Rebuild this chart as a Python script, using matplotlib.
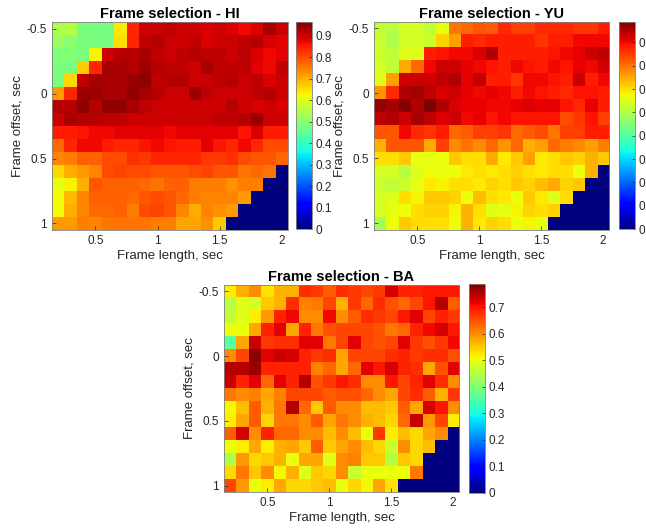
import matplotlib

matplotlib.use("Agg")
import matplotlib.pyplot as plt
import numpy as np

plt.rcParams["font.family"] = ["Liberation Sans", "DejaVu Sans"]

frame_length = [0.2, 0.3, 0.4, 0.5, 0.6, 0.7, 0.8, 0.9, 1.0, 1.1,
                1.2, 1.3, 1.4, 1.5, 1.6, 1.7, 1.8, 1.9, 2.0]
frame_offset = [-0.5, -0.4, -0.3, -0.2, -0.1, 0.0, 0.1, 0.2,
                0.3, 0.4, 0.5, 0.6, 0.7, 0.8, 0.9, 1.0]

# rows = frame offset, columns = frame length (0 where the frame does not fit)
hi_values = [
    [0.54, 0.55, 0.48, 0.48, 0.47, 0.64, 0.84, 0.90, 0.90, 0.91, 0.90, 0.90, 0.89, 0.90, 0.89, 0.87, 0.89, 0.93, 0.90],
    [0.52, 0.50, 0.48, 0.48, 0.48, 0.65, 0.84, 0.91, 0.92, 0.90, 0.90, 0.91, 0.89, 0.90, 0.90, 0.91, 0.92, 0.89, 0.88],
    [0.49, 0.49, 0.48, 0.63, 0.90, 0.92, 0.92, 0.93, 0.91, 0.90, 0.91, 0.92, 0.91, 0.91, 0.90, 0.91, 0.89, 0.87, 0.88],
    [0.48, 0.48, 0.67, 0.84, 0.93, 0.93, 0.92, 0.94, 0.92, 0.91, 0.91, 0.90, 0.93, 0.91, 0.91, 0.91, 0.88, 0.87, 0.91],
    [0.48, 0.66, 0.91, 0.93, 0.93, 0.93, 0.94, 0.95, 0.91, 0.92, 0.92, 0.90, 0.90, 0.91, 0.92, 0.90, 0.91, 0.89, 0.90],
    [0.72, 0.84, 0.94, 0.94, 0.93, 0.93, 0.95, 0.93, 0.92, 0.90, 0.90, 0.94, 0.91, 0.90, 0.90, 0.90, 0.91, 0.92, 0.90],
    [0.92, 0.92, 0.95, 0.92, 0.95, 0.95, 0.93, 0.91, 0.90, 0.90, 0.90, 0.90, 0.90, 0.90, 0.92, 0.90, 0.89, 0.90, 0.89],
    [0.90, 0.93, 0.92, 0.92, 0.91, 0.91, 0.90, 0.90, 0.90, 0.90, 0.90, 0.90, 0.90, 0.91, 0.91, 0.92, 0.94, 0.90, 0.90],
    [0.85, 0.85, 0.86, 0.87, 0.87, 0.88, 0.88, 0.88, 0.88, 0.87, 0.88, 0.88, 0.88, 0.88, 0.88, 0.86, 0.89, 0.85, 0.85],
    [0.77, 0.84, 0.87, 0.87, 0.85, 0.84, 0.84, 0.86, 0.87, 0.86, 0.85, 0.85, 0.88, 0.86, 0.84, 0.87, 0.84, 0.80, 0.80],
    [0.74, 0.75, 0.78, 0.78, 0.80, 0.80, 0.83, 0.82, 0.84, 0.84, 0.84, 0.84, 0.82, 0.82, 0.83, 0.80, 0.79, 0.79, 0.77],
    [0.66, 0.70, 0.72, 0.74, 0.80, 0.81, 0.80, 0.80, 0.79, 0.79, 0.79, 0.80, 0.81, 0.79, 0.79, 0.76, 0.77, 0.76, 0.0],
    [0.61, 0.63, 0.70, 0.79, 0.78, 0.78, 0.78, 0.77, 0.76, 0.78, 0.78, 0.75, 0.75, 0.75, 0.73, 0.75, 0.75, 0.0, 0.0],
    [0.62, 0.69, 0.74, 0.78, 0.78, 0.78, 0.77, 0.79, 0.80, 0.79, 0.77, 0.75, 0.74, 0.74, 0.74, 0.72, 0.0, 0.0, 0.0],
    [0.62, 0.70, 0.74, 0.77, 0.77, 0.78, 0.75, 0.80, 0.81, 0.79, 0.74, 0.70, 0.74, 0.73, 0.72, 0.0, 0.0, 0.0, 0.0],
    [0.72, 0.72, 0.75, 0.74, 0.76, 0.76, 0.76, 0.76, 0.75, 0.75, 0.71, 0.71, 0.73, 0.67, 0.0, 0.0, 0.0, 0.0, 0.0],
]

yu_values = [
    [0.52, 0.51, 0.54, 0.54, 0.52, 0.56, 0.70, 0.71, 0.73, 0.72, 0.77, 0.75, 0.75, 0.77, 0.77, 0.77, 0.76, 0.76, 0.78],
    [0.53, 0.50, 0.54, 0.54, 0.53, 0.61, 0.66, 0.78, 0.77, 0.78, 0.78, 0.78, 0.78, 0.76, 0.78, 0.78, 0.80, 0.80, 0.80],
    [0.53, 0.52, 0.55, 0.55, 0.78, 0.79, 0.80, 0.80, 0.82, 0.85, 0.78, 0.78, 0.78, 0.78, 0.79, 0.80, 0.81, 0.83, 0.84],
    [0.54, 0.52, 0.65, 0.71, 0.80, 0.83, 0.83, 0.81, 0.80, 0.79, 0.78, 0.80, 0.79, 0.78, 0.80, 0.79, 0.81, 0.80, 0.83],
    [0.55, 0.66, 0.83, 0.83, 0.83, 0.84, 0.85, 0.81, 0.84, 0.78, 0.78, 0.76, 0.80, 0.80, 0.79, 0.78, 0.83, 0.78, 0.80],
    [0.67, 0.77, 0.85, 0.86, 0.84, 0.82, 0.83, 0.81, 0.80, 0.81, 0.80, 0.78, 0.80, 0.79, 0.78, 0.77, 0.79, 0.79, 0.78],
    [0.87, 0.86, 0.88, 0.85, 0.89, 0.85, 0.82, 0.81, 0.81, 0.80, 0.80, 0.81, 0.82, 0.81, 0.81, 0.79, 0.77, 0.81, 0.78],
    [0.84, 0.85, 0.83, 0.86, 0.84, 0.82, 0.83, 0.80, 0.81, 0.79, 0.80, 0.79, 0.79, 0.79, 0.79, 0.74, 0.76, 0.79, 0.75],
    [0.73, 0.73, 0.80, 0.77, 0.76, 0.78, 0.71, 0.72, 0.75, 0.75, 0.76, 0.71, 0.72, 0.74, 0.70, 0.75, 0.75, 0.78, 0.78],
    [0.64, 0.73, 0.73, 0.73, 0.65, 0.75, 0.68, 0.70, 0.68, 0.71, 0.67, 0.71, 0.64, 0.66, 0.71, 0.69, 0.68, 0.66, 0.69],
    [0.60, 0.60, 0.62, 0.56, 0.56, 0.57, 0.62, 0.60, 0.60, 0.65, 0.59, 0.62, 0.66, 0.59, 0.60, 0.62, 0.61, 0.64, 0.62],
    [0.54, 0.54, 0.51, 0.55, 0.57, 0.56, 0.57, 0.59, 0.60, 0.59, 0.60, 0.61, 0.60, 0.59, 0.60, 0.60, 0.57, 0.64, 0.0],
    [0.53, 0.52, 0.53, 0.56, 0.59, 0.58, 0.60, 0.60, 0.59, 0.61, 0.60, 0.62, 0.61, 0.63, 0.65, 0.61, 0.62, 0.0, 0.0],
    [0.54, 0.55, 0.60, 0.58, 0.62, 0.62, 0.61, 0.57, 0.63, 0.60, 0.59, 0.57, 0.62, 0.59, 0.55, 0.60, 0.0, 0.0, 0.0],
    [0.54, 0.56, 0.57, 0.60, 0.61, 0.61, 0.58, 0.64, 0.60, 0.55, 0.56, 0.58, 0.61, 0.60, 0.61, 0.0, 0.0, 0.0, 0.0],
    [0.49, 0.57, 0.62, 0.60, 0.60, 0.60, 0.57, 0.64, 0.59, 0.61, 0.60, 0.57, 0.58, 0.56, 0.0, 0.0, 0.0, 0.0, 0.0],
]

ba_values = [
    [0.52, 0.57, 0.60, 0.53, 0.57, 0.57, 0.68, 0.67, 0.64, 0.68, 0.67, 0.66, 0.67, 0.73, 0.69, 0.69, 0.70, 0.70, 0.70],
    [0.45, 0.49, 0.48, 0.55, 0.57, 0.68, 0.61, 0.62, 0.66, 0.57, 0.67, 0.63, 0.68, 0.65, 0.63, 0.66, 0.70, 0.75, 0.64],
    [0.46, 0.49, 0.52, 0.59, 0.69, 0.71, 0.60, 0.60, 0.71, 0.60, 0.64, 0.68, 0.67, 0.66, 0.70, 0.72, 0.66, 0.69, 0.67],
    [0.50, 0.50, 0.58, 0.69, 0.72, 0.58, 0.69, 0.62, 0.65, 0.66, 0.66, 0.66, 0.65, 0.62, 0.63, 0.69, 0.71, 0.73, 0.70],
    [0.36, 0.58, 0.74, 0.67, 0.68, 0.68, 0.72, 0.72, 0.62, 0.66, 0.72, 0.66, 0.65, 0.66, 0.72, 0.67, 0.65, 0.67, 0.71],
    [0.60, 0.66, 0.78, 0.72, 0.74, 0.73, 0.69, 0.67, 0.68, 0.58, 0.66, 0.66, 0.66, 0.68, 0.69, 0.67, 0.68, 0.68, 0.65],
    [0.75, 0.75, 0.77, 0.69, 0.69, 0.69, 0.69, 0.61, 0.63, 0.58, 0.63, 0.72, 0.70, 0.73, 0.69, 0.68, 0.58, 0.65, 0.72],
    [0.74, 0.69, 0.72, 0.63, 0.72, 0.69, 0.75, 0.65, 0.67, 0.70, 0.68, 0.60, 0.60, 0.70, 0.66, 0.69, 0.72, 0.68, 0.60],
    [0.62, 0.60, 0.61, 0.58, 0.61, 0.66, 0.66, 0.66, 0.64, 0.65, 0.65, 0.63, 0.60, 0.58, 0.66, 0.68, 0.64, 0.57, 0.67],
    [0.51, 0.56, 0.64, 0.57, 0.62, 0.75, 0.63, 0.55, 0.64, 0.60, 0.60, 0.56, 0.56, 0.55, 0.64, 0.58, 0.73, 0.70, 0.60],
    [0.52, 0.58, 0.64, 0.54, 0.62, 0.62, 0.60, 0.64, 0.58, 0.62, 0.60, 0.57, 0.56, 0.54, 0.63, 0.74, 0.59, 0.66, 0.52],
    [0.64, 0.73, 0.60, 0.69, 0.63, 0.63, 0.60, 0.60, 0.56, 0.60, 0.56, 0.50, 0.67, 0.52, 0.56, 0.54, 0.58, 0.60, 0.0],
    [0.50, 0.52, 0.58, 0.52, 0.57, 0.58, 0.55, 0.64, 0.55, 0.58, 0.60, 0.56, 0.54, 0.47, 0.60, 0.54, 0.56, 0.0, 0.0],
    [0.44, 0.59, 0.54, 0.55, 0.57, 0.50, 0.58, 0.58, 0.49, 0.60, 0.61, 0.55, 0.55, 0.45, 0.55, 0.54, 0.0, 0.0, 0.0],
    [0.54, 0.62, 0.55, 0.60, 0.51, 0.57, 0.49, 0.55, 0.54, 0.60, 0.47, 0.50, 0.50, 0.50, 0.50, 0.62, 0.0, 0.0, 0.0],
    [0.66, 0.59, 0.50, 0.52, 0.58, 0.54, 0.54, 0.55, 0.56, 0.50, 0.54, 0.51, 0.58, 0.53, 0.0, 0.0, 0.0, 0.0, 0.0],
]

# title, values, colour-scale top, axes rect, colourbar rect (figure fractions)
panels = [
    ("Frame selection - HI", hi_values, 0.966,
     [0.0805, 0.5669, 0.3653, 0.3908], [0.4582, 0.5687, 0.0248, 0.3908]),
    ("Frame selection - YU", yu_values, 0.89,
     [0.5789, 0.5669, 0.3638, 0.3920], [0.9582, 0.5687, 0.0248, 0.3908]),
    ("Frame selection - BA", ba_values, 0.79,
     [0.3467, 0.0729, 0.3638, 0.3908], [0.7260, 0.0721, 0.0248, 0.3940]),
]

GREY = "#262626"


def draw_panel(fig, title, values, vmax, ax_rect, cb_rect):
    ax = fig.add_axes(ax_rect)
    data = np.array(values)
    dx = frame_length[1] - frame_length[0]
    dy = frame_offset[1] - frame_offset[0]
    extent = [frame_length[0] - dx / 2, frame_length[-1] + dx / 2,
              frame_offset[-1] + dy / 2, frame_offset[0] - dy / 2]
    im = ax.imshow(data, cmap="jet", vmin=0, vmax=vmax, extent=extent,
                   aspect="auto", interpolation="nearest")
    ax.set_xticks([0.5, 1, 1.5, 2])
    ax.set_xticklabels(["0.5", "1", "1.5", "2"])
    ax.set_yticks([-0.5, 0, 0.5, 1])
    ax.set_yticklabels(["-0.5", "0", "0.5", "1"])
    ax.tick_params(direction="in", length=3, labelsize=8.5, colors=GREY, width=0.5)
    for s in ax.spines.values():
        s.set_color("#808080")
        s.set_linewidth(0.6)
    ax.set_xlabel("Frame length, sec", fontsize=9.5, color=GREY, labelpad=2)
    ax.set_ylabel("Frame offset, sec", fontsize=9.5, color=GREY, labelpad=2)
    ax.set_title(title, fontsize=10.5, fontweight="bold", pad=3)

    cax = fig.add_axes(cb_rect)
    cb = fig.colorbar(im, cax=cax)
    top = int(vmax * 10 + 1e-9)
    cb.set_ticks([i / 10 for i in range(top + 1)])
    cb.set_ticklabels(["0"] + [f"{i / 10:.1f}" for i in range(1, top + 1)])
    cax.tick_params(direction="in", length=2.5, labelsize=8.5, colors=GREY,
                    width=0.5, pad=2.5)
    cb.outline.set_edgecolor("#808080")
    cb.outline.set_linewidth(0.6)


fig = plt.figure(figsize=(6.46, 5.31), dpi=100)
for title, values, vmax, ax_rect, cb_rect in panels:
    draw_panel(fig, title, values, vmax, ax_rect, cb_rect)

fig.savefig("out.png", dpi=100)
